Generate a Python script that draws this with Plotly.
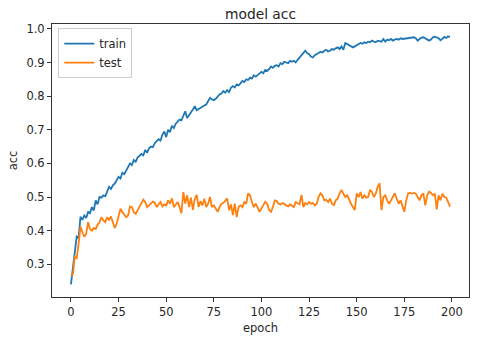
import plotly.graph_objects as go

epochs = list(range(200))

train_acc = [
    0.240, 0.290, 0.335, 0.382, 0.378, 0.441, 0.432, 0.445, 0.438, 0.455,
    0.452, 0.470, 0.460, 0.490, 0.478, 0.500, 0.498, 0.505, 0.502, 0.515,
    0.530, 0.524, 0.535, 0.540, 0.550, 0.560, 0.555, 0.572, 0.568, 0.580,
    0.592, 0.600, 0.595, 0.610, 0.605, 0.618, 0.622, 0.628, 0.624, 0.640,
    0.632, 0.645, 0.650, 0.648, 0.660, 0.665, 0.672, 0.668, 0.685, 0.695,
    0.678, 0.700, 0.693, 0.712, 0.705, 0.718, 0.725, 0.730, 0.728, 0.740,
    0.755, 0.735, 0.745, 0.752, 0.760, 0.770, 0.758, 0.762, 0.765, 0.770,
    0.772, 0.775, 0.785, 0.795, 0.790, 0.788, 0.792, 0.800, 0.805, 0.808,
    0.815, 0.810, 0.818, 0.812, 0.825, 0.830, 0.826, 0.835, 0.832, 0.838,
    0.845, 0.842, 0.850, 0.848, 0.855, 0.852, 0.862, 0.858, 0.862, 0.868,
    0.872, 0.868, 0.878, 0.875, 0.880, 0.888, 0.884, 0.890, 0.892, 0.888,
    0.898, 0.895, 0.902, 0.900, 0.898, 0.905, 0.902, 0.905, 0.900, 0.908,
    0.915, 0.922, 0.930, 0.935, 0.928, 0.925, 0.918, 0.915, 0.922, 0.924,
    0.928, 0.932, 0.930, 0.935, 0.938, 0.933, 0.935, 0.940, 0.938, 0.942,
    0.945, 0.940, 0.948, 0.938, 0.958, 0.955, 0.952, 0.950, 0.945, 0.948,
    0.952, 0.955, 0.958, 0.956, 0.960, 0.958, 0.962, 0.960, 0.965, 0.962,
    0.960, 0.965, 0.963, 0.962, 0.970, 0.962, 0.968, 0.966, 0.970, 0.965,
    0.968, 0.970, 0.968, 0.972, 0.970, 0.971, 0.972, 0.971, 0.972, 0.973,
    0.975, 0.972, 0.965, 0.970, 0.974, 0.975, 0.972, 0.970, 0.965, 0.968,
    0.975, 0.977, 0.975, 0.972, 0.966, 0.972, 0.976, 0.973, 0.978, 0.975,
]

test_acc = [
    0.265, 0.270, 0.322, 0.318, 0.360, 0.412, 0.395, 0.382, 0.390, 0.425,
    0.405, 0.400, 0.408, 0.405, 0.418, 0.425, 0.440, 0.430, 0.425, 0.440,
    0.432, 0.442, 0.425, 0.408, 0.420, 0.440, 0.465, 0.455, 0.448, 0.440,
    0.445, 0.472, 0.470, 0.455, 0.450, 0.460, 0.470, 0.480, 0.492, 0.485,
    0.470, 0.475, 0.480, 0.486, 0.483, 0.470, 0.478, 0.485, 0.472, 0.478,
    0.475, 0.490, 0.480, 0.496, 0.470, 0.478, 0.485, 0.470, 0.452, 0.515,
    0.480, 0.505, 0.470, 0.498, 0.462, 0.495, 0.506, 0.470, 0.488, 0.475,
    0.495, 0.470, 0.480, 0.500, 0.470, 0.475, 0.465, 0.456, 0.470, 0.480,
    0.482, 0.490, 0.496, 0.460, 0.478, 0.446, 0.480, 0.440, 0.470, 0.475,
    0.470, 0.485, 0.480, 0.511, 0.505, 0.485, 0.470, 0.480, 0.465, 0.456,
    0.466, 0.475, 0.486, 0.480, 0.462, 0.456, 0.470, 0.490, 0.488, 0.480,
    0.478, 0.482, 0.480, 0.475, 0.472, 0.478, 0.475, 0.470, 0.485, 0.482,
    0.478, 0.506, 0.470, 0.482, 0.478, 0.485, 0.480, 0.482, 0.475, 0.480,
    0.500, 0.511, 0.505, 0.490, 0.492, 0.485, 0.495, 0.480, 0.476, 0.490,
    0.495, 0.510, 0.521, 0.510, 0.500, 0.505, 0.490, 0.480, 0.470, 0.461,
    0.511, 0.500, 0.515, 0.495, 0.505, 0.498, 0.500, 0.521, 0.515, 0.500,
    0.510, 0.530, 0.541, 0.461, 0.500, 0.505, 0.490, 0.480, 0.490, 0.500,
    0.511, 0.495, 0.480, 0.490, 0.470, 0.456, 0.490, 0.511, 0.512, 0.510,
    0.512, 0.510, 0.500, 0.490, 0.505, 0.511, 0.475, 0.505, 0.516, 0.512,
    0.505, 0.510, 0.463, 0.505, 0.490, 0.510, 0.500, 0.498, 0.485, 0.471,
]

x_ticks = [0, 25, 50, 75, 100, 125, 150, 175, 200]
y_ticks = [0.3, 0.4, 0.5, 0.6, 0.7, 0.8, 0.9, 1.0]

FONT = "DejaVu Sans"
TXT = "#262626"

fig = go.Figure()
fig.add_trace(go.Scatter(x=epochs, y=train_acc, mode="lines", name="train",
                         line=dict(color="#1f77b4", width=1.8)))
fig.add_trace(go.Scatter(x=epochs, y=test_acc, mode="lines", name="test",
                         line=dict(color="#ff7f0e", width=1.8)))

axis_common = dict(
    showgrid=False, zeroline=False,
    showline=True, linecolor="#333333", linewidth=1, mirror=True,
    ticks="outside", ticklen=4, tickwidth=1, tickcolor="#333333",
    tickfont=dict(family=FONT, size=11.5, color=TXT),
)

fig.update_layout(
    width=496, height=345,
    margin=dict(l=50, r=27, t=24, b=48),
    paper_bgcolor="white", plot_bgcolor="white",
    font=dict(family=FONT, color=TXT),
    title=dict(text="model acc", x=0.5, xref="paper", xanchor="center",
               y=1, yref="paper", yanchor="bottom", pad=dict(b=5),
               font=dict(family=FONT, size=13.8, color=TXT)),
    xaxis=dict(range=[-9.95, 208.95], tickvals=x_ticks,
               title=dict(text="epoch", standoff=6,
                          font=dict(family=FONT, size=11.5, color=TXT)),
               **axis_common),
    yaxis=dict(range=[0.2026, 1.0145], tickvals=y_ticks, tickformat=".1f",
               title=dict(text="acc", standoff=6,
                          font=dict(family=FONT, size=11.5, color=TXT)),
               **axis_common),
    legend=dict(x=0.015, y=0.985, xanchor="left", yanchor="top",
                bgcolor="rgba(255,255,255,0.8)", bordercolor="#cccccc",
                borderwidth=1, font=dict(family=FONT, size=11.5, color=TXT),
                itemwidth=30, tracegroupgap=0),
    showlegend=True,
)

fig.write_html("out.html")
